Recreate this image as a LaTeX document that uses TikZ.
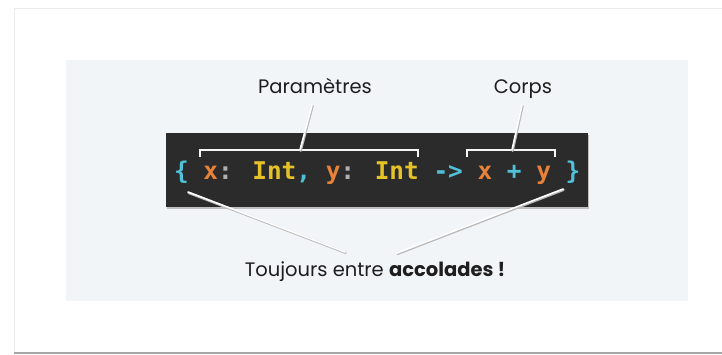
\documentclass[tikz,border=0pt]{standalone}
\usepackage{fontspec}
\setmainfont{Poppins}
\newfontfamily\codefont{DejaVu Sans Mono}[WordSpace={1,0,0}]
\definecolor{panel}{HTML}{F2F5F7}
\definecolor{codebg}{HTML}{2B2B2B}
\definecolor{cbrace}{HTML}{4FC1D9}
\definecolor{cvar}{HTML}{E8823A}
\definecolor{ctype}{HTML}{E6C229}
\definecolor{cgray}{HTML}{B0B0B0}
\definecolor{ctext}{HTML}{1E1E1E}
\definecolor{frameline}{HTML}{E9ECEE}
\tikzset{
  label/.style={font=\fontsize{19.5}{22}\selectfont, text=ctext, inner sep=0pt, anchor=base},
  leadshadow/.style={draw=gray!55, line width=2.4pt, line cap=round},
  lead/.style={draw=white, line width=1.6pt, line cap=round},
  brk/.style={draw=white!92!gray, line width=1.4pt},
}
\begin{document}
\begin{tikzpicture}[x=1pt,y=-1pt]
\useasboundingbox (0,0) rectangle (722,354);
\fill[white] (0,0) rectangle (722,354);
% outer frame
\draw[frameline, line width=0.8pt] (14,354) -- (14,8) -- (722,8);
\fill[gray!70] (14,351.5) rectangle (722,354);
% panel
\fill[panel] (66,60) rectangle (688,301);
% code box
\fill[black!25] (167,135) rectangle (589,209);
\fill[codebg] (166,133) rectangle (588,207);
\node[anchor=base west, inner sep=0pt, font=\codefont\bfseries\fontsize{24.4}{28}\selectfont] (code) at (173.8,179)
 {\color{cbrace}\{ \color{cvar}x\color{cgray}: \color{ctype}Int\color{cbrace}, \color{cvar}y\color{cgray}: \color{ctype}Int \color{cbrace}-> \color{cvar}x \color{cbrace}+ \color{cvar}y \color{cbrace}\}};
% brackets
\draw[brk] (200,157) -- (200,150) -- (418,150) -- (418,157);
\draw[brk] (467,157) -- (467,150) -- (555,150) -- (555,157);
\coordinate (pb) at (300,150);
\coordinate (cb) at (512,150);
\coordinate (lb) at (188,192);
\coordinate (rb) at (563,189);
% labels
\node[label] (params) at (315,93) {Paramètres};
\node[label] (corps) at (523,93) {Corps};
\node[label] (bottom) at (375,276) {Toujours entre \textbf{accolades !}};
\coordinate (pt) at (312,105);
\coordinate (ct) at (522,105);
\coordinate (bl) at (345,252);
\coordinate (br) at (397,253);
% leader lines
\foreach \a/\b in {pt/pb, ct/cb, lb/bl, rb/br}{
  \draw[leadshadow] ([shift={(0.6,0.8)}]\a) -- ([shift={(0.6,0.8)}]\b);
  \draw[lead] (\a) -- (\b);
}
\end{tikzpicture}
\end{document}
